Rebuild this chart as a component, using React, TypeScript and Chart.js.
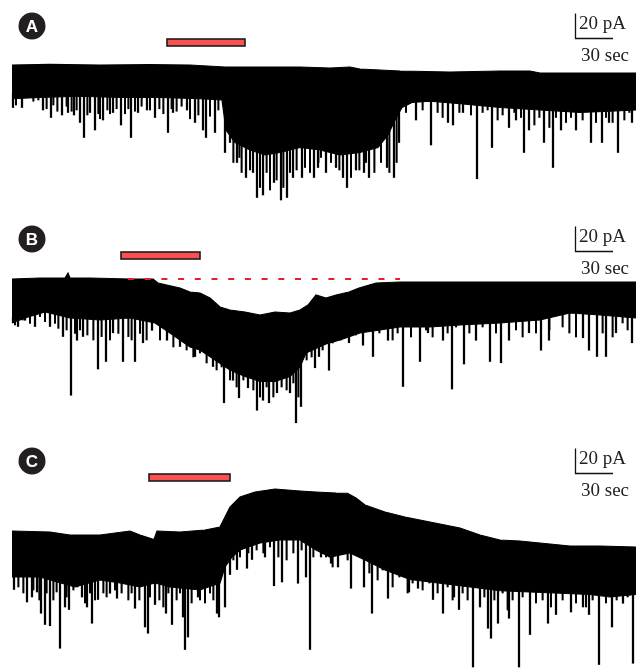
import React, { useEffect, useRef } from "react";
import { Chart, registerables } from "chart.js";

Chart.register(...registerables);

// ---------- DATA (time in s, current in pA relative to initial baseline) ----------
const panelLabels = ["A", "B", "C"];
const drugStart = [125.6, 88.8, 111.2];
const drugEnd = [188, 152, 176];
const scaleBarTime = 30; // sec
const scaleBarCurrent = 20; // pA

// Trace A: upper edge of the dense current band
const topA: number[][] = [
  [1.6, 0], [32, 0.5], [72, 0], [112, 0.3], [144, 0], [172, -1.6], [200, -1.6], [232, -1.6],
  [256, -2.4], [272, -1.6], [280, -3.2], [312, -4.8], [352, -5.6], [392, -4.8], [416, -4.8],
  [424, -6.4], [472, -6.4], [500.8, -6.4],
];
// Trace A: lower edge of the dense current band
const lowA: number[][] = [
  [1.6, -27], [24, -26], [56, -25], [88, -26], [120, -26], [152, -27], [169.6, -28], [172.8, -52],
  [180, -62], [192, -68], [204, -72], [216, -70], [232, -66], [248, -68], [264, -72], [280, -70],
  [294.4, -66], [302.4, -56], [308, -44], [313.6, -34], [321.6, -30], [336, -29], [360, -31],
  [392, -34], [424, -36], [456, -38], [480, -37], [500.8, -36],
];
// Trace A: large inward events (time, peak)
const spikesA: number[][] = [
  [2.4, -34], [9.6, -34], [26.4, -36], [32.8, -42], [41.6, -40], [46.4, -38], [51.2, -40], [56, -46],
  [59.2, -58], [64, -38], [68, -52], [74.4, -44], [82.4, -38], [88.8, -48], [96.8, -58], [102.4, -38],
  [109.6, -36], [116, -42], [126.4, -54], [130.4, -38], [141.6, -36], [148, -46], [154.4, -52],
  [156.8, -58], [164, -54], [172, -70], [176, -62], [181.6, -78], [188.8, -90], [194.4, -86],
  [197.6, -106], [202.4, -104], [211.2, -94], [216.8, -108], [221.6, -106], [226.4, -90],
  [233.6, -90], [243.2, -90], [246.4, -82], [252.8, -86], [260.8, -82], [266.4, -90], [269.6, -98],
  [276.8, -84], [283.2, -86], [287.2, -90], [301.6, -82], [307.2, -90], [311.2, -62], [324.8, -44],
  [336.8, -64], [350.4, -46], [354.4, -48], [362.4, -38], [373.6, -91], [385.6, -66], [399.2, -50],
  [404.8, -44], [411.2, -70], [415.2, -52], [427.2, -62], [434.4, -82], [440.8, -52], [452.8, -52],
  [464.8, -62], [473.6, -62], [479.2, -46], [486.4, -70], [497.6, -46],
];
// Trace A: smaller events along the band edge
const minorA: number[][] = [
  [4.8, -32], [18.7, -29], [22.7, -28], [29.3, -35], [34.7, -32], [37.9, -37], [45.3, -33],
  [49.3, -37], [53.3, -36], [61.9, -40], [70.7, -39], [72, -43], [77.9, -36], [80, -39], [85.3, -35],
  [92, -39], [94.7, -35], [100, -37], [105.3, -33], [112, -36], [119.5, -35], [122.7, -39],
  [129.3, -35], [133.3, -37], [137.3, -33], [144, -43], [150.7, -40], [160, -41], [166.7, -36],
  [178.7, -78], [183.5, -74], [185.3, -86], [192, -84], [200, -98], [205.3, -86], [208, -100],
  [213.3, -92], [218.7, -98], [224, -86], [229.3, -84], [236, -82], [240, -86], [246.7, -78],
  [248.8, -74], [256.8, -78], [263.5, -84], [272.8, -90], [279.5, -84], [284.8, -78], [291.5, -86],
  [296.8, -78], [303.5, -86], [309.3, -78], [316.8, -38], [330.1, -36], [342.1, -38], [346.1, -42],
  [359.5, -38], [368.8, -40], [378.1, -38], [382.1, -36], [390.1, -44], [394.1, -40], [403.5, -38],
  [408.8, -42], [419.5, -48], [423.5, -42], [431.5, -50], [436.8, -42], [444.8, -46], [448.8, -42],
  [458.1, -44], [468.8, -46], [476.8, -42], [482.1, -46], [491.5, -44], [495.5, -38],
];

// Trace B
const topB: number[][] = [
  [1.6, 0], [24, 0.8], [44, 0.8], [46.4, 4.8], [48, 0.8], [64, 0.8], [96, 0], [114.4, 0],
  [118.4, -3.2], [136, -7.2], [144, -10.4], [152, -11.2], [160, -15.2], [168, -22.4], [176, -24.8],
  [188, -26.4], [200, -28.8], [212, -26.4], [224, -27.2], [232, -24.8], [238.4, -20.8],
  [244.8, -12.8], [252.8, -15.2], [260.8, -12.8], [271.2, -10.4], [279.2, -7.2], [292.8, -3.2],
  [312, -2.4], [352, -2.4], [392, -2.4], [432, -2.4], [472, -2.4], [500.8, -2.4],
];
const lowB: number[][] = [
  [1.6, -35.2], [12, -31.2], [28, -26.4], [48, -31.2], [72, -32.8], [96, -31.2], [116, -35.2],
  [128, -43.2], [144, -54.4], [152, -56.8], [164, -64.8], [176, -72.8], [188, -78], [200, -82],
  [212, -82], [224, -78], [232, -70.4], [236.8, -59.2], [252.8, -52], [264, -48.8], [280, -43.2],
  [296, -40.8], [312, -38.4], [336, -38.4], [360, -36.8], [392, -35.2], [424, -32.8], [448, -27.2],
  [472, -28.8], [500.8, -31.2],
];
const spikesB: number[][] = [
  [2.4, -35], [6.4, -38], [12, -33], [20, -38], [32, -38], [42.4, -46], [48.8, -93], [53.6, -49],
  [58.4, -46], [70.4, -72], [76.8, -66], [82.4, -43], [90.4, -66], [100, -66], [106.4, -51],
  [113.6, -41], [125.6, -49], [136, -54], [148, -62], [162.4, -70], [171.2, -99], [178.4, -81],
  [183.2, -95], [190.4, -87], [197.6, -105], [202.4, -97], [207.2, -99], [213.6, -91], [224, -91],
  [228.8, -115], [232.8, -102], [244, -71], [247.2, -62], [255.2, -73], [271.2, -51], [282.4, -53],
  [290.4, -62], [302.4, -49], [314.4, -86], [328, -66], [334.4, -43], [346.4, -49], [353.6, -88],
  [363.2, -68], [372.8, -49], [384, -66], [392.8, -67], [399.2, -49], [415.2, -43], [424.8, -57],
  [431.2, -49], [458.4, -47], [463.2, -57], [469.6, -62], [476.8, -62], [484.8, -43], [497.6, -51],
];
const minorB: number[][] = [
  [4, -36.8], [10.1, -32.8], [16, -35.5], [24, -30.1], [28, -34.1], [36, -35.5], [38.7, -39.5],
  [45.3, -40.8], [52, -43.5], [56, -40.8], [61.9, -44.8], [66.7, -48.8], [73.3, -46.1], [80, -48.8],
  [86.7, -43.5], [94.7, -46.1], [97.3, -48.8], [104, -43.5], [109.3, -48.8], [120, -48.8],
  [130.7, -54.4], [141.3, -56.8], [146.7, -62.4], [152, -59.2], [157.3, -67.2], [165.3, -72.8],
  [169.3, -70.4], [176, -80.8], [181.3, -86.4], [186.7, -80.8], [194.7, -88.8], [200, -94.4],
  [205.3, -86.4], [210.7, -94.4], [217.3, -86.4], [221.3, -88.8], [226.7, -83.2], [230.7, -94.4],
  [237.3, -64.8], [241.3, -62.4], [250.1, -56.8], [258.1, -51.2], [264.8, -48.8], [268.8, -46.4],
  [276.8, -44.8], [286.1, -40.8], [295.5, -43.2], [306.1, -48.8], [310.1, -43.2], [320.8, -46.4],
  [332.8, -40.8], [338.1, -46.4], [350.1, -43.2], [356.8, -38.4], [367.5, -43.2], [378.1, -38.4],
  [388.8, -43.2], [404.8, -40.8], [410.1, -46.4], [420.8, -43.2], [431.5, -40.8], [442.1, -38.4],
  [447.5, -43.2], [452.8, -46.4], [474.1, -43.2], [482.1, -46.4], [490.1, -35.2], [494.1, -40.8],
];
// Pre-drug baseline reference (dashed)
const refLineB: number[][] = [[94.4, 0], [312, 0]];

// Trace C
const topC: number[][] = [
  [1.6, 0.8], [32, 0], [48, -2.4], [72, -2.4], [96, 0.8], [104, -2.4], [115.2, -6], [117.6, 0.8],
  [136, 0], [156, 1.6], [168, 4], [172, 12], [176, 20], [184, 28], [196, 32], [212, 34.4],
  [232, 32.8], [244.8, 32], [260.8, 31.2], [270, 31], [276.8, 27.2], [284, 21.6], [300, 16],
  [316, 12], [336, 8], [360, 3.2], [376, -2.4], [392, -6.4], [408, -7.2], [424, -8.8], [448, -11.2],
  [472, -11.2], [500.8, -12],
];
const lowC: number[][] = [
  [1.6, -36], [24, -36], [32, -38.4], [52, -44], [72, -38.4], [88, -40.8], [104, -44], [116, -40.8],
  [128, -44], [152, -46.4], [168, -40.8], [172, -28], [177.6, -20], [184, -14.4], [200, -8.8],
  [216, -6.4], [232, -6.4], [244.8, -14.4], [256, -20], [272, -16.8], [284, -22.4], [300, -30.4],
  [320, -38], [344, -41], [368, -44], [392, -47], [416, -48], [440, -49], [464, -50],
  [480, -52], [500.8, -50],
];
const spikesC: number[][] = [
  [3.2, -46], [13.6, -56], [17.6, -52], [21.6, -48], [24.8, -65], [28, -74], [32, -75], [40, -93],
  [44, -60], [47.2, -62], [57.6, -52], [61.6, -60], [65.6, -73], [70.4, -54], [80, -49], [85.6, -53],
  [100, -61], [108, -76], [110.4, -81], [116, -58], [124.8, -65], [129.6, -74], [138.4, -68],
  [140, -94], [142.4, -84], [150.4, -52], [165.6, -65], [167.2, -68], [172, -60], [176, -34],
  [181.6, -30], [189.6, -29], [193.6, -22], [204, -20], [211.2, -43], [217.6, -40], [230.4, -41],
  [236.8, -36], [240, -94], [248.8, -20], [256.8, -25], [262.4, -28], [272.8, -45], [283.2, -44],
  [289.6, -65], [302.4, -53], [319.2, -48], [326.4, -45], [338.4, -54], [346.4, -65], [355.2, -52],
  [359.2, -62], [370.4, -108], [376, -60], [382.4, -77], [384.8, -85], [390.4, -73], [399.2, -69],
  [407.2, -108], [416, -82], [430.4, -73], [436.8, -66], [448.8, -64], [458.4, -60], [463.2, -66],
  [471.2, -106], [481.6, -76], [490.4, -57], [498.4, -105],
];
const minorC: number[][] = [
  [6.7, -44], [10.7, -48.8], [18.7, -46.4], [23.5, -54.4], [29.3, -48.8], [34.7, -54.4], [37.3, -48],
  [45.3, -52], [50.7, -46.4], [53.9, -44], [60, -56.8], [64, -48.8], [68, -54.4], [74.7, -48.8],
  [77.3, -52], [84, -46.4], [89.3, -48.8], [94.7, -54.4], [97.3, -48.8], [103.5, -54.4], [112, -52],
  [119.5, -54.4], [122.7, -60], [126.7, -48.8], [133.3, -54.4], [136, -48.8], [145.3, -56.8],
  [152, -54.4], [156, -56.8], [160, -48.8], [162.7, -54.4], [178.7, -22.4], [184, -20],
  [190.7, -16.8], [197.3, -14.4], [202.7, -16.8], [208, -12], [214.7, -20], [221.3, -22.4],
  [226.7, -16.8], [233.3, -14.4], [242.7, -20], [252.8, -20], [258.1, -28], [270.1, -22.4],
  [278.1, -16.8], [287.5, -32.8], [294.1, -38.4], [298.1, -30.4], [306.1, -44], [311.5, -36],
  [318.1, -48.8], [322.1, -40.8], [330.1, -46.4], [335.5, -40.8], [342.1, -48.8], [350.1, -44],
  [354.1, -54.4], [362.1, -48.8], [366.1, -54.4], [379.5, -52], [387.5, -54.4], [394.1, -48.8],
  [398.1, -62.4], [402.1, -54.4], [410.1, -52], [420.8, -56.8], [426.1, -54.4], [432.8, -60],
  [442.1, -54.4], [452.8, -56.8], [460.8, -60], [466.1, -54.4], [476.8, -56.8], [485.3, -54.4],
  [494.1, -52],
];

// ---------- LAYOUT ----------
const W = 636;
const PX_PER_PA = 1.25;
const X_MIN = -8;
const X_MAX = 500.8;

type PanelDef = {
  top: number;
  height: number;
  base: number;
  upper: number[][];
  lower: number[][];
  spikes: number[][];
  minor: number[][];
  ref?: number[][];
};

const panels: PanelDef[] = [
  { top: 0, height: 213, base: 65, upper: topA, lower: lowA, spikes: spikesA, minor: minorA },
  { top: 213, height: 222, base: 66, upper: topB, lower: lowB, spikes: spikesB, minor: minorB, ref: refLineB },
  { top: 435, height: 234, base: 97, upper: topC, lower: lowC, spikes: spikesC, minor: minorC },
];

// where an event leaves the band (hidden inside the black band)
function bandAt(arr: number[][], t: number): number {
  for (let i = 1; i < arr.length; i++) {
    if (t <= arr[i][0]) {
      const [t0, v0] = arr[i - 1];
      const [t1, v1] = arr[i];
      const f = (t - t0) / (t1 - t0 || 1);
      return v0 + f * (v1 - v0);
    }
  }
  return arr[arr.length - 1][1];
}

function Trace({ idx, def }: { idx: number; def: PanelDef }) {
  const ref = useRef<HTMLCanvasElement | null>(null);
  useEffect(() => {
    if (!ref.current) return;
    const yMax = def.base / PX_PER_PA;
    const yMin = -(def.height - def.base) / PX_PER_PA;
    const toBar = ([x, y]: number[]) => ({ x, y: [y, bandAt(def.lower, x) + 4] });
    const datasets: any[] = [
      {
        type: "line",
        data: def.upper.map(([x, y]) => ({ x, y })),
        borderColor: "#000",
        borderWidth: 1.2,
        pointRadius: 0,
        tension: 0,
        fill: false,
        order: 4,
      },
      {
        type: "line",
        data: def.lower.map(([x, y]) => ({ x, y })),
        borderColor: "#000",
        borderWidth: 1.2,
        pointRadius: 0,
        tension: 0,
        fill: "-1",
        backgroundColor: "#000",
        order: 3,
      },
      {
        type: "bar",
        data: def.spikes.map(toBar),
        backgroundColor: "#000",
        borderWidth: 0,
        barThickness: 1.6,
        grouped: false,
        order: 1,
      },
      {
        type: "bar",
        data: def.minor.map(toBar),
        backgroundColor: "#000",
        borderWidth: 0,
        barThickness: 1.4,
        grouped: false,
        order: 2,
      },
    ];
    if (def.ref) {
      datasets.push({
        type: "line",
        data: def.ref.map(([x, y]) => ({ x, y })),
        borderColor: "#e3212b",
        borderWidth: 1.8,
        borderDash: [6, 10.7],
        pointRadius: 0,
        fill: false,
        order: 0,
      });
    }
    const decor = {
      id: "decor",
      afterDraw(chart: any) {
        const { ctx } = chart;
        const xs = chart.scales.x;
        const ys = chart.scales.y;
        ctx.save();
        // drug application bar
        const x0 = xs.getPixelForValue(drugStart[idx]);
        const x1 = xs.getPixelForValue(drugEnd[idx]);
        ctx.fillStyle = "#fb5050";
        ctx.fillRect(x0, 39, x1 - x0, 7);
        ctx.strokeStyle = "#1c1c1c";
        ctx.lineWidth = 1.6;
        ctx.strokeRect(x0, 39, x1 - x0, 7);
        // panel label
        ctx.fillStyle = "#231f20";
        ctx.beginPath();
        ctx.arc(32, 26, 13.5, 0, Math.PI * 2);
        ctx.fill();
        ctx.fillStyle = "#fff";
        ctx.font = 'bold 17px "Liberation Sans"';
        ctx.textAlign = "center";
        ctx.textBaseline = "middle";
        ctx.fillText(panelLabels[idx], 32, 27);
        // calibration bar
        const w = xs.getPixelForValue(scaleBarTime) - xs.getPixelForValue(0);
        const h = ys.getPixelForValue(0) - ys.getPixelForValue(scaleBarCurrent);
        const sx = 575.5;
        const sy = 38.5;
        ctx.strokeStyle = "#111";
        ctx.lineWidth = 1.3;
        ctx.beginPath();
        ctx.moveTo(sx, sy - h);
        ctx.lineTo(sx, sy);
        ctx.lineTo(sx + w, sy);
        ctx.stroke();
        ctx.fillStyle = "#222";
        ctx.font = '19px "Liberation Serif"';
        ctx.textAlign = "left";
        ctx.textBaseline = "alphabetic";
        ctx.fillText(`${scaleBarCurrent} pA`, 579, 29);
        ctx.fillText(`${scaleBarTime} sec`, 581, 61);
        ctx.restore();
      },
    };
    const chart = new Chart(ref.current, {
      type: "bar",
      data: { datasets },
      options: {
        animation: false,
        responsive: false,
        maintainAspectRatio: false,
        devicePixelRatio: 1,
        layout: { padding: 0 },
        plugins: { legend: { display: false }, tooltip: { enabled: false } },
        scales: {
          x: { type: "linear", min: X_MIN, max: X_MAX, offset: false, display: false },
          y: { type: "linear", min: yMin, max: yMax, display: false },
        },
      },
      plugins: [decor],
    } as any);
    return () => chart.destroy();
  }, [idx, def]);
  return (
    <canvas
      ref={ref}
      width={W}
      height={def.height}
      style={{ position: "absolute", left: 0, top: def.top, width: W, height: def.height }}
    />
  );
}

export default function App() {
  return (
    <div style={{ position: "absolute", left: 0, top: 0, width: W, height: 669, background: "#fff" }}>
      {panels.map((p, i) => (
        <Trace key={i} idx={i} def={p} />
      ))}
    </div>
  );
}
